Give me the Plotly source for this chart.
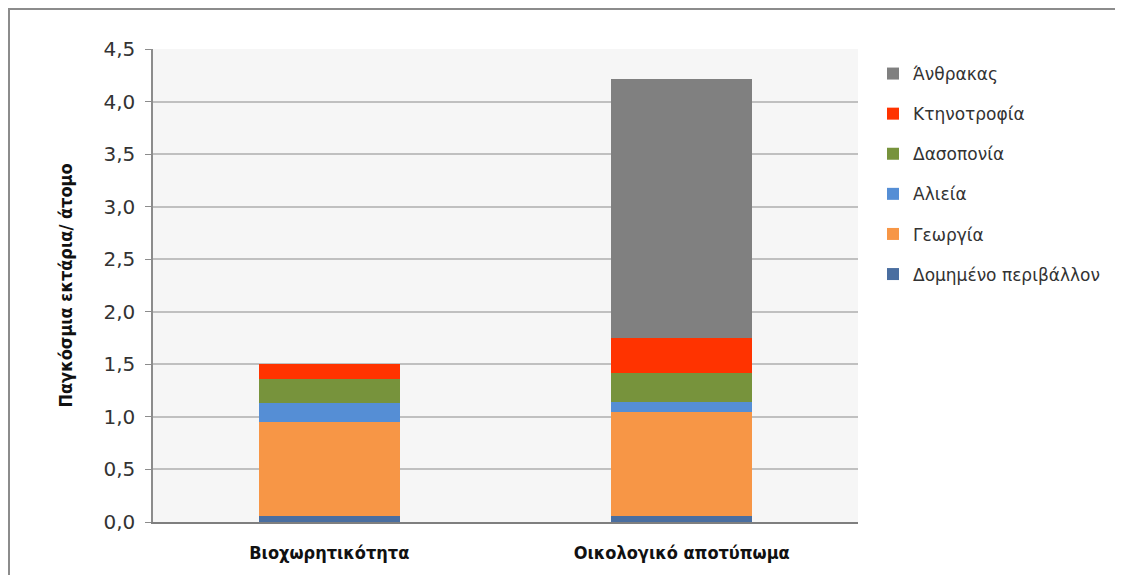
import plotly.graph_objects as go

categories = ["Βιοχωρητικότητα", "Οικολογικό αποτύπωμα"]
series_names = ["Δομημένο περιβάλλον", "Γεωργία", "Αλιεία", "Δασοπονία", "Κτηνοτροφία", "Άνθρακας"]
domimeno = [0.06, 0.06]
georgia = [0.89, 0.99]
alieia = [0.18, 0.09]
dasoponia = [0.23, 0.28]
ktinotrofia = [0.14, 0.33]
anthrakas = [0.0, 2.46]
colors = ["#4A6EA0", "#F79646", "#558ED5", "#77933C", "#FF3300", "#808080"]

values = [domimeno, georgia, alieia, dasoponia, ktinotrofia, anthrakas]

# page has an 8px body margin; positions below are in figure coordinates
OFF = 8
W, H = 1123 - OFF, 575 - OFF
L, R, T, B = 153 - OFF, 858 - OFF, 49 - OFF, 522 - OFF

fig = go.Figure()
n = len(series_names)
for i, (name, vals, col) in enumerate(zip(series_names, values, colors)):
    fig.add_trace(go.Bar(
        x=categories, y=vals, name=name, marker_color=col,
        marker_line_width=0, legendgroup=f"g{i}", legendrank=n - i,
        hovertemplate="%{x}<br>" + name + ": %{y:.2f}<extra></extra>",
    ))

# outer chart border (screen coordinates converted to paper)
px = lambda v: (v - OFF - L) / (R - L)
py = lambda v: (B - (v - OFF)) / (B - T)
fig.add_shape(type="rect", xref="paper", yref="paper",
              x0=px(9), x1=px(1121), y0=py(9), y1=py(600),
              line=dict(color="#8c8c8c", width=2), fillcolor="rgba(0,0,0,0)", layer="above")

fig.update_layout(
    width=W, height=H,
    margin=dict(l=L, r=W - R, t=T, b=H - B, pad=0),
    barmode="stack", bargap=0.6,
    separators=",.",
    paper_bgcolor="white", plot_bgcolor="#f6f6f6",
    font=dict(family="DejaVu Sans", color="#222"),
    legend=dict(
        x=px(873), y=py(56), xanchor="left", yanchor="top",
        traceorder="grouped", tracegroupgap=15,
        font=dict(family="DejaVu Sans", size=17, color="#333"),
        bgcolor="rgba(0,0,0,0)", itemwidth=30,
    ),
    xaxis=dict(
        showline=True, linecolor="#7f7f7f", linewidth=1.5,
        ticks="", showgrid=False, ticklabelstandoff=14,
        tickfont=dict(family="DejaVu Sans Condensed, Liberation Sans Narrow", size=18, color="#111", weight="bold"),
    ),
    yaxis=dict(
        range=[0, 4.5], dtick=0.5, tickformat=".1f",
        showline=True, linecolor="#8c8c8c", linewidth=1.5,
        ticks="outside", ticklen=6, tickcolor="#8c8c8c", ticklabelstandoff=6,
        showgrid=True, gridcolor="#c0c0c0", gridwidth=1.5,
        tickfont=dict(family="DejaVu Sans", size=20, color="#333"),
        title=dict(text="Παγκόσμια εκτάρια/ άτομο", standoff=26,
                   font=dict(family="DejaVu Sans Condensed, Liberation Sans Narrow", size=18, color="#111", weight="bold")),
        zeroline=False,
    ),
)

fig.write_html("out.html")
